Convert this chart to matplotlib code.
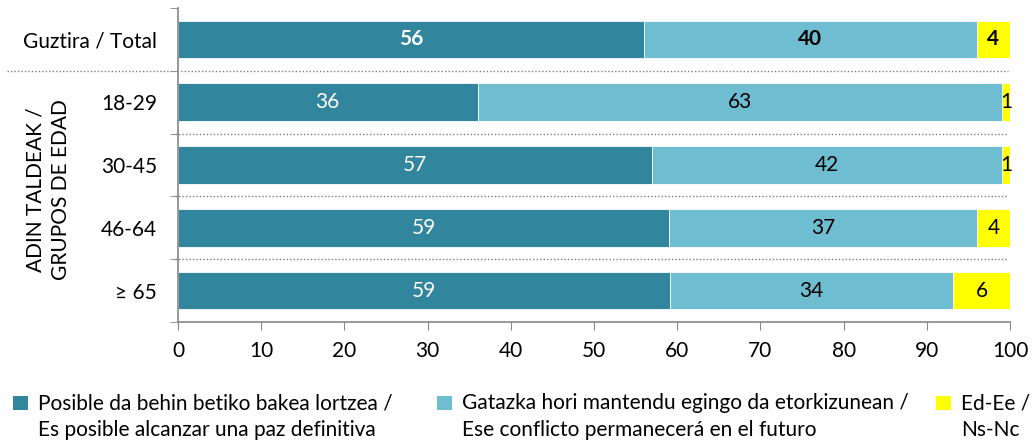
import matplotlib.pyplot as plt
import numpy as np
from matplotlib.patches import Rectangle
from matplotlib.ticker import FixedLocator

plt.rcParams['font.family'] = ['Lato', 'DejaVu Sans']

categories = ['Guztira / Total', '18-29', '30-45', '46-64', '≥ 65']
posible = [56, 36, 57, 59, 59.1]
mantendu = [40, 63, 42, 37, 34.1]
nsnc = [4, 1, 1, 4, 6.8]
series_labels = ['Posible da behin betiko bakea lortzea /\nEs posible alcanzar una paz definitiva',
                 'Gatazka hori mantendu egingo da etorkizunean /\nEse conflicto permanecerá en el futuro',
                 'Ed-Ee /\nNs-Nc']
colors = ['#31859C', '#6FBDD1', '#FFFF00']
text_colors = ['white', 'black', 'black']

W, H = 1033, 441
FS = 15
fig = plt.figure(figsize=(W / 100, H / 100), dpi=100)
ax = fig.add_axes([178 / W, 1 - 322 / H, (1010 - 178) / W, (322 - 8) / H])

y = np.arange(len(categories))
left = np.zeros(len(categories))
bars_all = []
for vals, col, lab in zip([posible, mantendu, nsnc], colors, series_labels):
    bars = ax.barh(y, vals, left=left, height=0.6, color=col, label=lab,
                   edgecolor='white', linewidth=0.6)
    bars_all.append(bars)
    left = left + np.array(vals)

for bars, tc in zip(bars_all, text_colors):
    for i, b in enumerate(bars):
        w = b.get_width()
        cx = b.get_x() + w / 2
        ax.text(cx, b.get_y() + b.get_height() / 2, f'{int(w)}', ha='center', va='center',
                color=tc, fontsize=FS, fontweight='bold' if i == 0 else 'normal')

ax.set_xlim(0, 100)
ax.set_ylim(len(categories) - 0.5, -0.5)
ax.set_xticks(range(0, 101, 10))
ax.set_yticks(y)
ax.set_yticklabels(categories)
ax.yaxis.set_minor_locator(FixedLocator(np.arange(-0.5, len(categories), 1)))
ax.tick_params(axis='y', which='major', length=0, pad=15, labelsize=FS)
ax.tick_params(axis='y', which='minor', length=6, color='#868686')
ax.tick_params(axis='x', length=6, color='#868686', labelsize=FS, pad=8)
for s in ['top', 'right']:
    ax.spines[s].set_visible(False)
for s in ['left', 'bottom']:
    ax.spines[s].set_color('#868686')
    ax.spines[s].set_linewidth(1.2)

# dotted separators
for k in range(len(categories) - 1):
    x0 = -0.205 if k == 0 else -0.004
    ax.plot([x0, 0.997], [k + 0.5, k + 0.5], transform=ax.get_yaxis_transform(),
            color='#7F7F7F', linestyle=(0, (1, 1.5)), linewidth=1, clip_on=False, zorder=0)

# rotated group label
for xpx, line in zip([36, 61], ['ADIN TALDEAK /', 'GRUPOS DE EDAD']):
    fig.text(xpx / W, 1 - 190 / H, line, rotation=90, ha='center', va='center', fontsize=FS)

# legend
for sx, tx, col, lab in zip([13, 437, 936], [38, 462, 961], colors, series_labels):
    fig.patches.append(Rectangle((sx / W, 1 - 410 / H), 15 / W, 14 / H, facecolor=col,
                                 transform=fig.transFigure, figure=fig))
    for ypx, line in zip([403, 430], lab.split('\n')):
        fig.text(tx / W, 1 - ypx / H, line, ha='left', va='center', fontsize=15)

fig.savefig('out.png', dpi=100)
